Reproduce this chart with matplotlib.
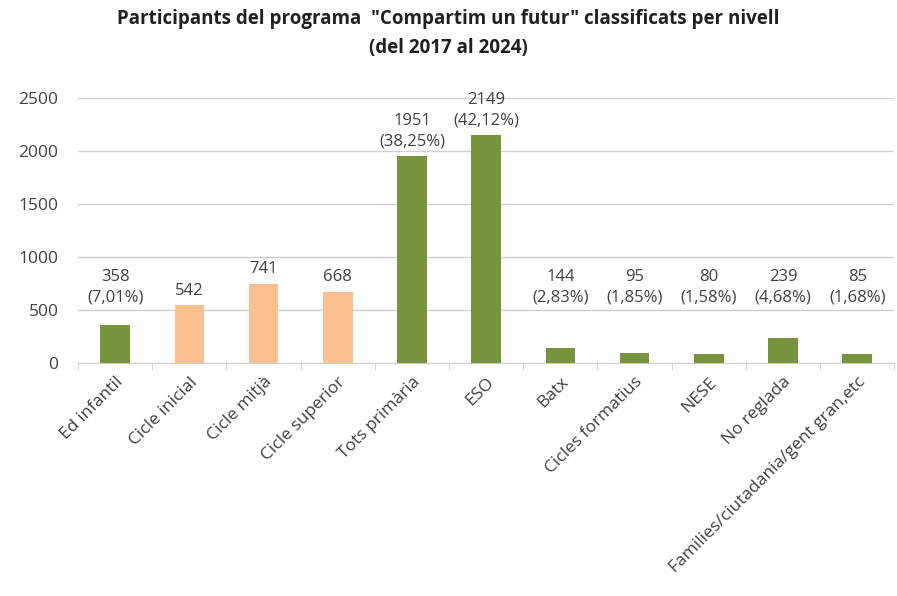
import numpy as np
import matplotlib
matplotlib.use("Agg")
import matplotlib.pyplot as plt

# Data
categories = ["Ed infantil", "Cicle inicial", "Cicle mitjà", "Cicle superior",
              "Tots primària", "ESO", "Batx", "Cicles formatius", "NESE",
              "No reglada", "Families/ciutadania/gent gran,etc"]
values = [358, 542, 741, 668, 1951, 2149, 144, 95, 80, 239, 85]
percents = ["7,01%", None, None, None, "38,25%", "42,12%",
            "2,83%", "1,85%", "1,58%", "4,68%", "1,68%"]
is_primary_cycle = [False, True, True, True, False, False,
                    False, False, False, False, False]

green = "#77933C"
peach = "#FAC090"
text_color = "#404040"
grid_color = "#d0d0d0"

plt.rcParams['font.family'] = ['Open Sans', 'DejaVu Sans']

fig = plt.figure(figsize=(8.97, 5.96), dpi=100)
ax = fig.add_axes([0.087, 0.391, 0.91, 0.445])

x = np.arange(len(categories))
colors = [peach if p else green for p in is_primary_cycle]
ax.bar(x, values, width=0.4, color=colors, zorder=3)

# Value labels (small bars share a common label height, as in the original)
for xi, v, p in zip(x, values, percents):
    label = f"{v}" if p is None else f"{v}\n({p})"
    ax.annotate(label, xy=(xi, max(v, 480)), xytext=(0, 5),
                textcoords="offset points", ha="center", va="bottom",
                fontsize=12, color=text_color, linespacing=1.35)

ax.set_xlim(-0.5, len(categories) - 0.5)
ax.set_ylim(0, 2500)
ax.set_yticks(np.arange(0, 2501, 500))
ax.yaxis.grid(True, color=grid_color, linewidth=1, zorder=0)
ax.tick_params(axis="y", length=0, labelsize=12.5, labelcolor=text_color, pad=14)

ax.set_xticks(x)
ax.set_xticklabels(categories, rotation=45, ha="right", rotation_mode="anchor",
                   fontsize=12.5, color=text_color)
ax.tick_params(axis="x", which="major", length=0, pad=8)
ax.set_xticks(np.arange(-0.5, len(categories), 1), minor=True)
ax.tick_params(axis="x", which="minor", length=5, color=grid_color)

for side in ["left", "right", "top"]:
    ax.spines[side].set_visible(False)
ax.spines["bottom"].set_color(grid_color)

fig.suptitle('Participants del programa  "Compartim un futur" classificats per nivell\n(del 2017 al 2024)',
             y=0.985, fontsize=13.5, fontweight="bold", color="#202020", linespacing=1.6)

fig.savefig("out.png", dpi=100)
